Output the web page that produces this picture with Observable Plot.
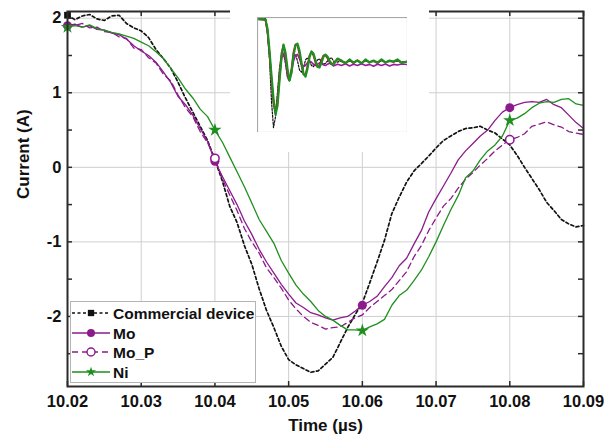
<!DOCTYPE html>
<html>
<head>
<meta charset="utf-8">
<script src="https://cdn.jsdelivr.net/npm/d3@7"></script>
<script src="https://cdn.jsdelivr.net/npm/@observablehq/plot@0.6"></script>
<style>
  html, body { margin: 0; padding: 0; background: #fff; }
  #wrap { position: relative; width: 615px; height: 444px; overflow: hidden; font-family: "Liberation Sans", Arial, sans-serif; }
  #inset { position: absolute; left: 230px; top: 0px; width: 199px; height: 152px; background: #fff; }
  #insetPlot { position: absolute; left: 27px; top: 17px; }
  #legend { position: absolute; left: 70px; top: 301px; }
</style>
</head>
<body>
<div id="wrap">
  <div id="main"></div>
  <div id="inset"><div id="insetPlot"></div></div>
  <div id="legend"></div>
</div>
<script>
// ---------- data ----------
const seriesNames = ["Commercial device", "Mo", "Mo_P", "Ni"];

const timeUs = [
  10.020, 10.021, 10.022, 10.023, 10.024, 10.025, 10.026, 10.027, 10.028, 10.029,
  10.030, 10.031, 10.032, 10.033, 10.034, 10.035, 10.036, 10.037, 10.038, 10.039,
  10.040, 10.041, 10.042, 10.043, 10.044, 10.045, 10.046, 10.047, 10.048, 10.049,
  10.050, 10.051, 10.052, 10.053, 10.054, 10.055, 10.056, 10.057, 10.058, 10.059,
  10.060, 10.061, 10.062, 10.063, 10.064, 10.065, 10.066, 10.067, 10.068, 10.069,
  10.070, 10.071, 10.072, 10.073, 10.074, 10.075, 10.076, 10.077, 10.078, 10.079,
  10.080, 10.081, 10.082, 10.083, 10.084, 10.085, 10.086, 10.087, 10.088, 10.089,
  10.090
];

const commercial = [
  2.04, 1.98, 2.03, 2.05, 1.99, 1.97, 2.03, 2.04, 1.93, 1.87,
  1.83, 1.74, 1.58, 1.46, 1.33, 1.14, 0.93, 0.74, 0.55, 0.36,
  0.10, -0.18, -0.52, -0.74, -1.05, -1.30, -1.63, -1.92, -2.15, -2.40,
  -2.58, -2.65, -2.70, -2.75, -2.73, -2.64, -2.55, -2.35, -2.15, -1.98,
  -1.82, -1.55, -1.27, -0.98, -0.62, -0.40, -0.20, -0.05, 0.05, 0.15,
  0.26, 0.36, 0.42, 0.48, 0.52, 0.53, 0.55, 0.50, 0.46, 0.38,
  0.30, 0.16, 0.00, -0.15, -0.30, -0.47, -0.58, -0.70, -0.76, -0.80,
  -0.78
];

const mo = [
  1.90, 1.92, 1.88, 1.90, 1.85, 1.84, 1.80, 1.78, 1.72, 1.63,
  1.56, 1.50, 1.41, 1.28, 1.14, 0.95, 0.84, 0.70, 0.52, 0.35,
  0.08, -0.12, -0.31, -0.50, -0.72, -0.90, -1.10, -1.27, -1.42, -1.57,
  -1.70, -1.82, -1.88, -1.95, -1.98, -2.02, -2.05, -2.02, -2.00, -1.93,
  -1.85, -1.80, -1.73, -1.60, -1.48, -1.32, -1.22, -1.03, -0.85, -0.60,
  -0.42, -0.25, -0.08, 0.10, 0.22, 0.32, 0.42, 0.50, 0.63, 0.74,
  0.80, 0.84, 0.87, 0.88, 0.87, 0.91, 0.84, 0.80, 0.70, 0.60,
  0.52
];

const moP = [
  1.92, 1.90, 1.93, 1.87, 1.88, 1.82, 1.81, 1.75, 1.73, 1.60,
  1.58, 1.47, 1.40, 1.25, 1.16, 0.97, 0.80, 0.68, 0.48, 0.33,
  0.12, -0.15, -0.37, -0.58, -0.82, -1.00, -1.15, -1.35, -1.48, -1.62,
  -1.78, -1.90, -2.00, -2.08, -2.12, -2.17, -2.15, -2.14, -2.08, -2.02,
  -1.98, -1.88, -1.80, -1.72, -1.64, -1.52, -1.40, -1.20, -1.05, -0.85,
  -0.68, -0.52, -0.42, -0.28, -0.16, -0.07, 0.03, 0.12, 0.22, 0.30,
  0.37, 0.40, 0.45, 0.55, 0.58, 0.61, 0.57, 0.54, 0.48, 0.46,
  0.44
];

const ni = [
  1.88, 1.90, 1.88, 1.91, 1.86, 1.84, 1.81, 1.79, 1.76, 1.73,
  1.68, 1.63, 1.55, 1.46, 1.33, 1.20, 1.05, 0.93, 0.78, 0.68,
  0.50, 0.34, 0.14, -0.06, -0.26, -0.48, -0.70, -0.86, -1.02, -1.25,
  -1.42, -1.58, -1.70, -1.80, -1.92, -2.00, -2.05, -2.12, -2.18, -2.18,
  -2.19, -2.14, -2.10, -2.04, -1.85, -1.72, -1.65, -1.52, -1.38, -1.20,
  -1.00, -0.78, -0.57, -0.38, -0.14, -0.05, 0.10, 0.22, 0.30, 0.42,
  0.63, 0.66, 0.72, 0.80, 0.86, 0.88, 0.87, 0.91, 0.92, 0.85,
  0.83
];

// times at which each series shows a marker symbol
const markersCommercial = [10.02];
const markersMo = [10.02, 10.04, 10.06, 10.08];
const markersMoP = [10.04, 10.08];
const markersNi = [10.02, 10.04, 10.06, 10.08];

const xTicks = [10.02, 10.03, 10.04, 10.05, 10.06, 10.07, 10.08, 10.09];
const yTicks = [-2, -1, 0, 1, 2];
const yMinorTicks = [-2.5, -1.5, -0.5, 0.5, 1.5];

// inset (overview of the whole ringing waveform)
const insetTime = [
  10.010, 10.030, 10.035, 10.040, 10.045, 10.050, 10.055, 10.060, 10.065, 10.070,
  10.075, 10.080, 10.085, 10.090, 10.095, 10.100, 10.105, 10.110, 10.115, 10.120,
  10.125, 10.130, 10.135, 10.140, 10.145, 10.150, 10.155, 10.160, 10.165, 10.170,
  10.175, 10.180, 10.185, 10.190, 10.195, 10.200, 10.210, 10.220, 10.230, 10.240,
  10.250, 10.260, 10.270, 10.280, 10.290, 10.300, 10.310, 10.320, 10.330, 10.340,
  10.350, 10.360, 10.370, 10.385
];
const insetCommercial = [
  2.1, 2.1, 1.4, 0.3, -1.6, -2.78, -2.3, -1.2, -0.1, 0.45,
  0.5, 0.1, -0.55, -0.7, -0.2, 0.4, 0.5, 0.2, -0.2, -0.3,
  -0.1, 0.25, 0.35, 0.2, 0.0, -0.05, 0.1, 0.25, 0.3, 0.15,
  0.05, 0.1, 0.2, 0.3, 0.35, 0.2, 0.15, 0.22, 0.12, 0.2,
  0.15, 0.22, 0.12, 0.2, 0.16, 0.22, 0.14, 0.2, 0.15, 0.22,
  0.16, 0.2, 0.15, 0.18
];
const insetMo = [
  2.08, 2.05, 1.55, 0.55, -0.6, -1.6, -2.15, -1.7, -0.6, 0.3,
  0.55, 0.2, -0.45, -0.62, -0.3, 0.2, 0.45, 0.5, 0.3, 0.05,
  -0.05, 0.0, 0.12, 0.2, 0.15, 0.05, 0.0, 0.05, 0.12, 0.1,
  0.02, 0.0, 0.06, 0.1, 0.05, -0.02, 0.06, 0.0, 0.08, -0.02,
  0.06, 0.0, 0.08, 0.0, 0.05, -0.03, 0.06, 0.0, 0.07, -0.02,
  0.05, 0.02, 0.07, 0.04
];
const insetMoP = [
  2.08, 2.05, 1.5, 0.5, -0.7, -1.7, -2.1, -1.5, -0.4, 0.55,
  0.9, 0.45, -0.3, -0.6, -0.15, 0.6, 0.95, 0.9, 0.5, 0.0,
  -0.4, -0.42, -0.02, 0.45, 0.62, 0.45, 0.12, -0.06, 0.0, 0.25,
  0.45, 0.45, 0.32, 0.15, 0.06, 0.1, 0.3, 0.18, 0.12, 0.25,
  0.1, 0.24, 0.1, 0.25, 0.15, 0.2, 0.1, 0.26, 0.14, 0.2,
  0.16, 0.24, 0.12, 0.18
];
const insetNi = [
  2.08, 2.06, 1.66, 0.67, -0.45, -1.48, -2.2, -1.8, -0.68, 0.36,
  0.94, 0.58, -0.14, -0.68, -0.32, 0.45, 0.89, 0.98, 0.67, 0.13,
  -0.36, -0.5, -0.14, 0.36, 0.63, 0.54, 0.22, -0.05, -0.09, 0.13,
  0.40, 0.49, 0.40, 0.22, 0.09, 0.04, 0.31, 0.22, 0.09, 0.27,
  0.13, 0.22, 0.09, 0.27, 0.13, 0.22, 0.13, 0.27, 0.13, 0.22,
  0.18, 0.27, 0.13, 0.18
];

// ---------- build ----------
const colors = { black: "#111111", purple: "#8c1a8c", green: "#1f8f1f", red: "#b0202a" };
const toRows = (vals) => timeUs.map((t, i) => ({ t, v: vals[i] }));
const atMarkers = (rows, times) => rows.filter(d => times.some(m => Math.abs(m - d.t) < 1e-9));
const rowsC = toRows(commercial), rowsMo = toRows(mo), rowsMoP = toRows(moP), rowsNi = toRows(ni);

const W = 615, H = 444, mL = 67, mT = 11, mR = 32, mB = 58;
const xDomain = [10.02, 10.09], yDomain = [-2.94, 2.09];
const xPerPx = (xDomain[1] - xDomain[0]) / (W - mL - mR);
const yPerPx = (yDomain[1] - yDomain[0]) / (H - mT - mB);
const tick = 5;
const axisColor = "#2b2b2b";
const yAll = yTicks.concat(yMinorTicks);

const main = Plot.plot({
  width: W, height: H,
  marginLeft: mL, marginTop: mT, marginRight: mR, marginBottom: mB,
  x: { domain: xDomain, label: null },
  y: { domain: yDomain, label: null },
  style: { fontFamily: "'Liberation Sans', Arial, sans-serif", fontWeight: "bold", color: "#111", background: "#fff" },
  marks: [
    Plot.gridX(xTicks.slice(1, -1), { stroke: "#cfcfcf", strokeOpacity: 1, strokeWidth: 1 }),
    Plot.gridY(yTicks, { stroke: "#cfcfcf", strokeOpacity: 1, strokeWidth: 1 }),
    Plot.line(rowsC, { x: "t", y: "v", stroke: colors.black, strokeWidth: 1.7, strokeDasharray: "3,2.5" }),
    Plot.line(rowsMo, { x: "t", y: "v", stroke: colors.purple, strokeWidth: 1.3 }),
    Plot.line(rowsMoP, { x: "t", y: "v", stroke: colors.purple, strokeWidth: 1.3, strokeDasharray: "6,4" }),
    Plot.line(rowsNi, { x: "t", y: "v", stroke: colors.green, strokeWidth: 1.3 }),
    Plot.dot(atMarkers(rowsC, markersCommercial), { x: "t", y: "v", symbol: "square", r: 3.8, fill: colors.black }),
    Plot.dot(atMarkers(rowsMo, markersMo), { x: "t", y: "v", symbol: "circle", r: 4.5, fill: colors.purple }),
    Plot.dot(atMarkers(rowsMoP, markersMoP), { x: "t", y: "v", symbol: "circle", r: 4.2, fill: "#fff", stroke: colors.purple, strokeWidth: 1.5 }),
    Plot.dot(atMarkers(rowsNi, markersNi), { x: "t", y: "v", symbol: "star", r: 4.2, fill: colors.green }),
    Plot.frame({ stroke: axisColor, strokeWidth: 2 }),
    // inward ticks
    Plot.ruleX(xTicks, { x: d => d, y1: yDomain[0], y2: yDomain[0] + tick * yPerPx, stroke: axisColor, strokeWidth: 1.5 }),
    Plot.ruleX(xTicks, { x: d => d, y1: yDomain[1] - tick * yPerPx, y2: yDomain[1], stroke: axisColor, strokeWidth: 1.5 }),
    Plot.ruleY(yAll, { y: d => d, x1: xDomain[0], x2: xDomain[0] + tick * xPerPx, stroke: axisColor, strokeWidth: 1.5 }),
    Plot.ruleY(yAll, { y: d => d, x1: xDomain[1] - tick * xPerPx, x2: xDomain[1], stroke: axisColor, strokeWidth: 1.5 }),
    Plot.axisX(xTicks, { tickSize: 0, tickPadding: 9, tickFormat: d3.format(".2f"), fontSize: 16.5, fontWeight: "bold", label: null }),
    Plot.axisY(yTicks, { tickSize: 0, tickPadding: 6, tickFormat: d => String(d), fontSize: 16.5, fontWeight: "bold", label: null }),
    Plot.text(["Time (\u00b5s)"], { text: d => d, frameAnchor: "bottom", dy: 44, fontSize: 17, fontWeight: "bold", fill: "#111" }),
    Plot.text(["Current (A)"], { text: d => d, frameAnchor: "left", dx: -44, rotate: -90, fontSize: 17, fontWeight: "bold", fill: "#111" })
  ]
});
document.getElementById("main").appendChild(main);

// ---------- inset ----------
const toInset = (vals) => insetTime.map((t, i) => ({ t, v: vals[i] }));
const inset = Plot.plot({
  width: 150, height: 115,
  margin: 0,
  x: { domain: [10.01, 10.385], axis: null },
  y: { domain: [-3.0, 2.15], axis: null },
  style: { background: "#fff" },
  marks: [
    Plot.line(toInset(insetCommercial), { x: "t", y: "v", stroke: colors.black, strokeWidth: 1.2, strokeDasharray: "2,1.5" }),
    Plot.line(toInset(insetMo), { x: "t", y: "v", stroke: "#9a1aa0", strokeWidth: 1.6 }),
    Plot.line(toInset(insetMoP), { x: "t", y: "v", stroke: colors.red, strokeWidth: 1.8 }),
    Plot.line(toInset(insetNi), { x: "t", y: "v", stroke: colors.green, strokeWidth: 2.2 }),
    Plot.frame({ stroke: "#a8a8a8", strokeWidth: 1.2 })
  ]
});
document.getElementById("insetPlot").appendChild(inset);

// ---------- legend ----------
const legendItems = [
  { name: seriesNames[0], stroke: colors.black, dash: "3,2.5", symbol: "square", fill: colors.black },
  { name: seriesNames[1], stroke: colors.purple, dash: null, symbol: "circle", fill: colors.purple },
  { name: seriesNames[2], stroke: colors.purple, dash: "6,4", symbol: "circle", fill: "#fff" },
  { name: seriesNames[3], stroke: colors.green, dash: null, symbol: "star", fill: colors.green }
];
const lw = 186, lh = 82;
const lsvg = d3.create("svg").attr("width", lw).attr("height", lh)
  .style("font-family", "'Liberation Sans', Arial, sans-serif");
lsvg.append("rect").attr("x", 0.5).attr("y", 0.5).attr("width", lw - 1).attr("height", lh - 1)
  .attr("fill", "#fff").attr("stroke", "#b4b4b4").attr("stroke-width", 1);
const rowY = [12, 32, 51, 71];
const symSize = { square: 40, circle: 50, star: 32 };
legendItems.forEach((it, i) => {
  const y = rowY[i];
  lsvg.append("line").attr("x1", 2).attr("x2", 40).attr("y1", y).attr("y2", y)
    .attr("stroke", it.stroke).attr("stroke-width", it.dash === "3,2.5" ? 1.7 : 1.3)
    .attr("stroke-dasharray", it.dash);
  const sym = { square: d3.symbolSquare, circle: d3.symbolCircle, star: d3.symbolStar }[it.symbol];
  lsvg.append("path").attr("d", d3.symbol(sym, symSize[it.symbol])())
    .attr("transform", `translate(21,${y})`)
    .attr("fill", it.fill)
    .attr("stroke", it.name === "Mo_P" ? colors.purple : "none")
    .attr("stroke-width", 1.4);
  lsvg.append("text").attr("x", 43).attr("y", y).attr("dy", "0.36em")
    .attr("font-size", 15.5).attr("font-weight", "bold").attr("fill", "#111")
    .text(it.name);
});
document.getElementById("legend").appendChild(lsvg.node());
</script>
</body>
</html>
